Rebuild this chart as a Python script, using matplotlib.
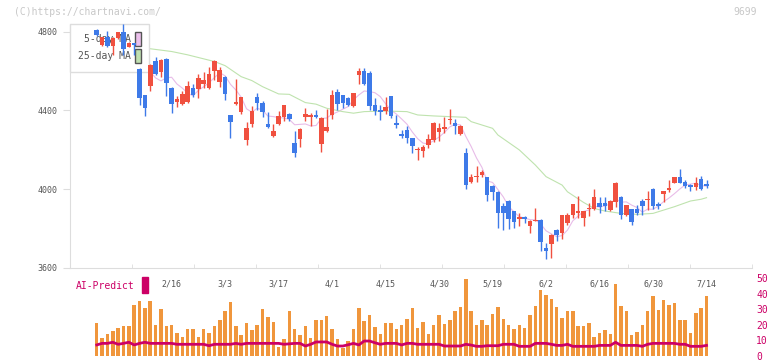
import numpy as np
import pandas as pd
import matplotlib
matplotlib.use("Agg")
import matplotlib.pyplot as plt
from matplotlib.patches import Rectangle, Patch

plt.rcParams['font.family'] = 'DejaVu Sans Mono'

# daily candles, oldest first
opens = [4807, 4734, 4776, 4730, 4768, 4800, 4725, 4742, 4610, 4479,
         4525, 4653, 4598, 4662, 4515, 4442, 4435, 4445, 4513, 4510,
         4533, 4516, 4601, 4547, 4572, 4377, 4434, 4391, 4250, 4331,
         4469, 4440, 4331, 4272, 4331, 4369, 4382, 4234, 4255, 4369,
         4369, 4377, 4231, 4296, 4377, 4493, 4479, 4462, 4425, 4578,
         4603, 4589, 4428, 4403, 4399, 4474, 4338, 4280, 4301, 4258,
         4197, 4196, 4224, 4250, 4292, 4308, 4349, 4338, 4279, 4185,
         4037, 4061, 4072, 4060, 4017, 3986, 3913, 3941, 3888, 3846,
         3859, 3812, 3836, 3840, 3698, 3720, 3791, 3777, 3829, 3867,
         3876, 3850, 3896, 3896, 3930, 3930, 3893, 3935, 3960, 3870,
         3898, 3898, 3938, 3946, 4000, 3923, 3977, 3994, 4032, 4059,
         4034, 4020, 4012, 4051, 4025]
highs = [4814, 4776, 4802, 4775, 4800, 4840, 4748, 4745, 4615, 4480,
         4635, 4670, 4660, 4665, 4518, 4476, 4500, 4551, 4533, 4584,
         4598, 4620, 4655, 4620, 4575, 4377, 4558, 4470, 4343, 4422,
         4491, 4449, 4394, 4331, 4397, 4430, 4385, 4296, 4310, 4414,
         4385, 4403, 4365, 4408, 4505, 4510, 4479, 4466, 4490, 4615,
         4615, 4603, 4462, 4428, 4466, 4476, 4377, 4300, 4321, 4260,
         4216, 4225, 4279, 4340, 4335, 4369, 4408, 4355, 4325, 4207,
         4077, 4117, 4097, 4062, 4020, 3990, 3927, 3944, 3890, 3879,
         3862, 3840, 3901, 3845, 3723, 3770, 3795, 3870, 3879, 3925,
         3964, 3890, 3927, 4000, 3960, 3960, 3945, 4035, 3962, 3920,
         3900, 3921, 3950, 3989, 4003, 3935, 3992, 4045, 4062, 4100,
         4045, 4028, 4059, 4066, 4045]
lows = [4780, 4730, 4725, 4683, 4765, 4683, 4722, 4680, 4430, 4374,
        4500, 4580, 4572, 4476, 4385, 4420, 4428, 4440, 4470, 4465,
        4512, 4510, 4555, 4520, 4453, 4262, 4428, 4380, 4224, 4317,
        4403, 4369, 4312, 4267, 4326, 4346, 4346, 4165, 4216, 4346,
        4321, 4360, 4190, 4290, 4357, 4403, 4411, 4425, 4420, 4535,
        4530, 4403, 4377, 4352, 4382, 4360, 4311, 4262, 4233, 4185,
        4148, 4165, 4207, 4240, 4245, 4284, 4332, 4279, 4275, 3998,
        4030, 4037, 4060, 3941, 3944, 3804, 3791, 3795, 3800, 3812,
        3825, 3774, 3836, 3684, 3643, 3650, 3735, 3748, 3816, 3850,
        3850, 3813, 3864, 3893, 3876, 3887, 3890, 3910, 3845, 3865,
        3816, 3867, 3867, 3893, 3900, 3898, 3935, 3985, 4030, 4030,
        4003, 3989, 3994, 3995, 4003]
closes = [4785, 4773, 4730, 4770, 4798, 4715, 4745, 4732, 4465, 4414,
          4632, 4585, 4656, 4541, 4431, 4459, 4482, 4524, 4479, 4564,
          4556, 4584, 4652, 4606, 4482, 4341, 4442, 4468, 4309, 4397,
          4440, 4394, 4317, 4296, 4372, 4428, 4357, 4183, 4306, 4382,
          4377, 4369, 4362, 4317, 4479, 4434, 4440, 4428, 4489, 4603,
          4535, 4425, 4399, 4391, 4420, 4372, 4328, 4272, 4258, 4221,
          4201, 4216, 4255, 4338, 4313, 4318, 4357, 4323, 4321, 4020,
          4061, 4064, 4089, 3970, 3983, 3879, 3879, 3846, 3833, 3859,
          3846, 3837, 3840, 3728, 3686, 3767, 3767, 3867, 3867, 3923,
          3887, 3887, 3901, 3958, 3910, 3915, 3938, 4032, 3870, 3918,
          3833, 3876, 3913, 3950, 3913, 3915, 3989, 4006, 4059, 4032,
          4017, 4012, 4029, 3998, 4017]

# 25-day moving average, read at a few candles
ma25_idx = [10, 14, 17, 22, 24, 27, 29, 31, 34, 36, 39, 41, 43, 46, 48, 50,
            54, 58, 60, 63, 69, 70, 74, 75, 79, 82, 84, 87, 88, 91, 93, 95,
            98, 101, 104, 108, 111, 113, 114]
ma25_val = [4714, 4700, 4683, 4649, 4628, 4572, 4552, 4521, 4484, 4482, 4440,
            4432, 4411, 4394, 4386, 4394, 4397, 4394, 4377, 4372, 4365, 4343,
            4309, 4275, 4199, 4122, 4063, 4020, 3986, 3932, 3901, 3888, 3876,
            3871, 3876, 3910, 3939, 3948, 3956]

# AI-Predict panel
ai_bars = [21.4, 11.5, 13.9, 16.2, 17.9, 19.2, 19.2, 32.7, 35.3, 30.8,
           35.3, 19.9, 30.1, 19.2, 19.9, 14.7, 12.2, 17.3, 17.3, 12.2,
           17.3, 14.7, 19.2, 23.1, 28.8, 34.6, 19.2, 13.5, 21.4, 16.7,
           19.9, 30.1, 25.0, 21.8, 6.0, 10.9, 28.8, 17.3, 13.5, 19.2,
           11.5, 23.1, 23.1, 25.6, 17.3, 10.9, 5.0, 9.6, 17.3, 30.8,
           22.4, 26.3, 18.6, 14.1, 21.2, 21.2, 17.3, 19.9, 23.7, 30.8,
           17.9, 21.8, 14.1, 19.9, 26.3, 20.5, 23.1, 28.8, 31.4, 49.4,
           28.8, 19.9, 23.1, 19.9, 26.9, 31.4, 23.7, 19.9, 17.3, 19.9,
           17.9, 26.3, 32.1, 42.0, 39.0, 36.5, 31.4, 24.4, 28.8, 28.8,
           19.2, 19.2, 21.2, 12.2, 14.7, 16.7, 14.1, 46.2, 32.1, 28.8,
           13.5, 15.4, 19.9, 28.8, 38.5, 29.5, 35.9, 32.7, 34.0, 23.1,
           23.1, 14.7, 27.6, 30.8, 38.5]
ai_line = [7.1, 8.1, 8.1, 8.8, 7.5, 8.1, 8.8, 7.1, 8.1, 8.8,
           8.1, 8.1, 8.1, 8.1, 8.1, 7.5, 7.5, 7.5, 7.5, 7.5,
           7.5, 6.6, 7.5, 7.5, 7.5, 7.5, 8.1, 7.5, 8.1, 8.1,
           8.1, 8.1, 8.1, 8.1, 8.1, 7.5, 7.8, 8.1, 8.1, 6.4,
           7.5, 9.0, 9.0, 9.0, 7.5, 6.4, 6.4, 7.2, 8.1, 7.1,
           9.6, 9.6, 8.5, 7.5, 8.1, 8.1, 8.1, 7.1, 8.1, 8.1,
           7.5, 7.5, 7.5, 7.5, 7.5, 6.4, 6.4, 6.4, 6.4, 7.5,
           7.0, 6.2, 6.2, 6.6, 6.6, 6.6, 7.5, 7.5, 7.5, 6.2,
           6.2, 6.2, 8.1, 8.1, 8.1, 7.5, 6.8, 6.8, 7.5, 6.2,
           6.2, 6.2, 6.2, 6.2, 6.8, 6.8, 6.8, 8.8, 6.8, 6.8,
           6.8, 6.8, 6.2, 7.5, 8.1, 8.1, 8.1, 8.1, 8.1, 7.5,
           7.5, 6.2, 6.2, 6.2, 6.8]

date_idx = [14, 24, 34, 44, 54, 64, 74, 84, 94, 104, 114]
date_labels = ["2/16", "3/3", "3/17", "4/1", "4/15", "4/30",
               "5/19", "6/2", "6/16", "6/30", "7/14"]

RED = '#f0503f'
BLUE = '#3e7ae8'
GRID = '#dddddd'
TXT = '#555555'
CRIMSON = '#cc0066'

o = np.array(opens, float)
h = np.array(highs, float)
l = np.array(lows, float)
c = np.array(closes, float)
x = np.arange(len(c))
cols = np.where(c >= o, RED, BLUE)

W, H = 772, 361
fig = plt.figure(figsize=(W / 100, H / 100), dpi=100)
ax = fig.add_axes([70 / W, 1 - 268 / H, 682 / W, 244 / H])
ax2 = fig.add_axes([70 / W, 1 - 356 / H, 682 / W, 78 / H])
ax2.patch.set_alpha(0)

xlo, xhi = -5, 122.5

# moving averages (under the legend)
ma5 = pd.Series(c).rolling(5).mean()
ax.plot(x, ma5, color='#e8bce8', lw=0.8, zorder=2)
ax.plot(ma25_idx, ma25_val, color='#bfe3ae', lw=0.8, zorder=2)

# candles
ax.vlines(x, l, h, colors=cols, lw=1, zorder=3)
body = np.maximum(np.abs(c - o), 5)
ax.bar(x, body, bottom=np.minimum(o, c), width=0.85, color=cols, zorder=4)

ax.set_xlim(xlo, xhi)
ax.set_ylim(3598, 4840)
for s in ['top', 'right']:
    ax.spines[s].set_visible(False)
for s in ['left', 'bottom']:
    ax.spines[s].set_color(GRID)
ax.set_yticks([3600, 4000, 4400, 4800])
ax.tick_params(axis='y', length=5, color=GRID, labelcolor=TXT, labelsize=6, pad=4)
ax.set_xticks(date_idx)
ax.set_xticklabels(date_labels)
ax.set_xticks(np.linspace(xlo, xhi, 12), minor=True)
ax.tick_params(axis='x', which='major', length=0, labelcolor=TXT, labelsize=6, pad=8)
ax.tick_params(axis='x', which='minor', length=3, direction='in', color=GRID)

handles = [Patch(facecolor='#ecc0ec', edgecolor='#555555', lw=1),
           Patch(facecolor='#bfe0b0', edgecolor='#555555', lw=1)]
leg = ax.legend(handles, ['5-day MA', '25-day MA'], loc='upper left',
                bbox_to_anchor=(0, 1), borderaxespad=0, markerfirst=False,
                fontsize=7, handlelength=0.6, handleheight=1.85,
                handletextpad=0.4, labelspacing=0.3, borderpad=0.85,
                fancybox=False, framealpha=1, edgecolor=GRID, labelcolor=TXT)
leg.set_zorder(2.5)

# AI-Predict panel
ax2.bar(x, ai_bars, width=0.65, color='#f0963c', zorder=2)
ax2.plot(x, ai_line, color=CRIMSON, lw=2, zorder=3)
ax2.set_xlim(xlo, xhi)
ax2.set_ylim(0, 50)
for s in ax2.spines.values():
    s.set_visible(False)
ax2.set_xticks([])
ax2.yaxis.tick_right()
ax2.set_yticks([0, 10, 20, 30, 40, 50])
ax2.tick_params(axis='y', length=0, labelcolor=CRIMSON, labelsize=7, pad=3)

fig.text(76 / W, 1 - 286 / H, 'AI-Predict', color=CRIMSON, fontsize=7, va='center')
fig.patches.append(Rectangle((142 / W, 1 - 293 / H), 6 / W, 16 / H,
                             transform=fig.transFigure, color=CRIMSON))

fig.text(14 / W, 1 - 12 / H, '(C)https://chartnavi.com/', color='#c8c8c8',
         fontsize=7, va='center')
fig.text(757 / W, 1 - 12 / H, '9699', color='#c8c8c8', fontsize=7,
         va='center', ha='right')

fig.savefig('out.png', dpi=100)
